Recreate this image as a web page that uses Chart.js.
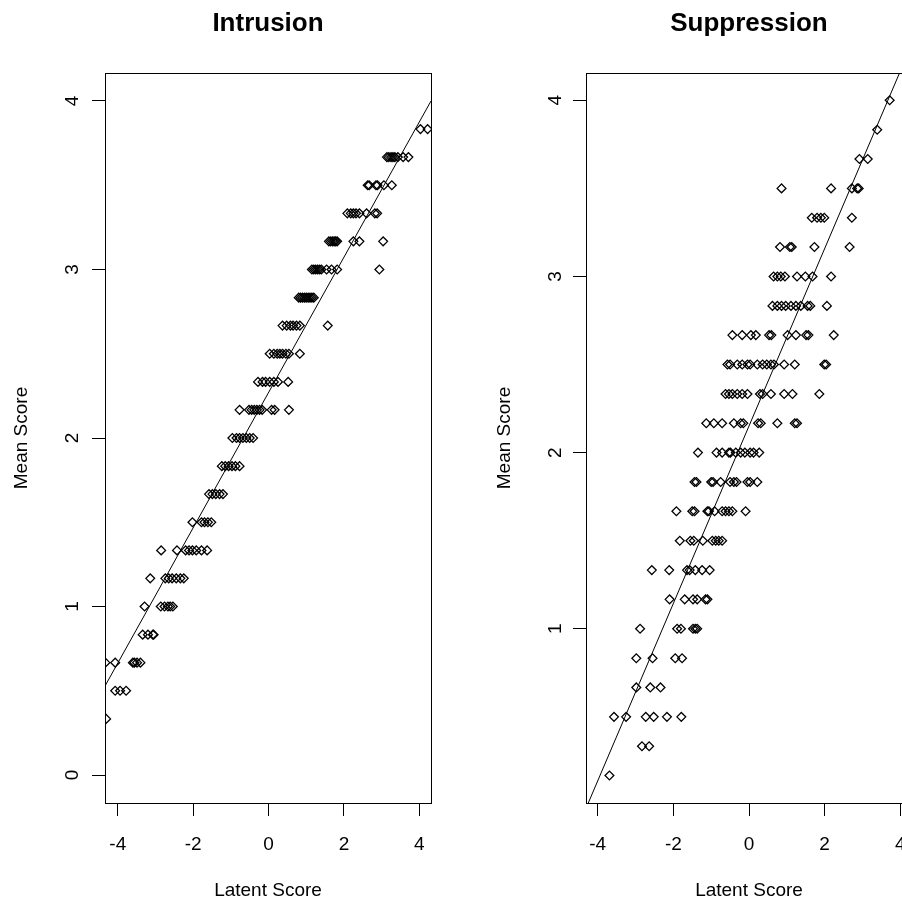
<!DOCTYPE html>
<html>
<head>
<meta charset="utf-8">
<script src="https://cdn.jsdelivr.net/npm/chart.js@4.4.1/dist/chart.umd.min.js"></script>
<style>
  html, body { margin: 0; padding: 0; background: #fff; overflow: hidden; width: 902px; height: 907px; }
  .panel { position: absolute; top: 0; height: 907px; }
  #left { left: 0; width: 460px; }
  #right { left: 460px; width: 481px; }
</style>
</head>
<body>
<div class="panel" id="left"><canvas id="intrusion"></canvas></div>
<div class="panel" id="right"><canvas id="suppression"></canvas></div>
<script>
// tick labels
const latentTicks = [-4, -2, 0, 2, 4];
const intrusionTicks = [0, 1, 2, 3, 4];
const suppressionTicks = [1, 2, 3, 4];

// Intrusion: mean score levels (bottom to top) and the latent scores plotted at each level
const intrusionMeans = [0.333, 0.5, 0.667, 0.833, 1, 1.167, 1.333, 1.5, 1.667, 1.833, 2,
  2.167, 2.333, 2.5, 2.667, 2.833, 3, 3.167, 3.333, 3.5, 3.667, 3.833];
const intrusionLatent = [
  [-4.31],
  [-4.07, -3.94, -3.78],
  [-4.33, -4.07, -3.60, -3.56, -3.49, -3.40],
  [-3.34, -3.20, -3.07, -3.05],
  [-3.29, -2.86, -2.76, -2.67, -2.61, -2.54],
  [-3.14, -2.74, -2.65, -2.56, -2.45, -2.34, -2.25],
  [-2.85, -2.43, -2.20, -2.11, -2.02, -1.92, -1.78, -1.63],
  [-2.02, -1.78, -1.70, -1.61, -1.52],
  [-1.58, -1.49, -1.40, -1.30, -1.21],
  [-1.24, -1.15, -1.06, -0.97, -0.88, -0.77],
  [-0.96, -0.85, -0.77, -0.68, -0.59, -0.50, -0.41],
  [-0.77, -0.52, -0.45, -0.38, -0.31, -0.24, -0.17, 0.08, 0.16, 0.54],
  [-0.28, -0.16, -0.08, 0.03, 0.14, 0.25, 0.52],
  [0.03, 0.14, 0.23, 0.30, 0.37, 0.46, 0.54, 0.83],
  [0.37, 0.48, 0.58, 0.65, 0.74, 0.83, 1.57],
  [0.80, 0.85, 0.90, 0.95, 1.00, 1.05, 1.10, 1.15, 1.20],
  [1.15, 1.20, 1.25, 1.30, 1.35, 1.40, 1.54, 1.67, 1.82, 2.94],
  [1.60, 1.65, 1.70, 1.74, 1.78, 1.82, 2.25, 2.41, 3.04],
  [2.09, 2.18, 2.25, 2.32, 2.41, 2.60, 2.82, 2.88],
  [2.63, 2.67, 2.85, 2.89, 3.06, 3.27],
  [3.14, 3.19, 3.25, 3.30, 3.35, 3.43, 3.57, 3.71],
  [4.03, 4.22]
];
const intrusionFit = [{ x: -4.35, y: 0.524 }, { x: 4.31, y: 4.0 }];

// Suppression
const suppressionMeans = [0.167, 0.333, 0.5, 0.667, 0.833, 1, 1.167, 1.333, 1.5, 1.667, 1.833, 2,
  2.167, 2.333, 2.5, 2.667, 2.833, 3, 3.167, 3.333, 3.5, 3.667, 3.833, 4];
const suppressionLatent = [
  [-3.69],
  [-2.83, -2.64],
  [-3.57, -3.25, -2.73, -2.52, -2.17, -1.79],
  [-2.98, -2.61, -2.34],
  [-2.98, -2.55, -1.95, -1.77],
  [-2.88, -1.90, -1.80, -1.48, -1.42, -1.37],
  [-2.10, -1.70, -1.48, -1.37, -1.15, -1.10],
  [-2.57, -2.11, -1.64, -1.57, -1.42, -1.24, -1.04],
  [-1.83, -1.55, -1.46, -1.22, -0.97, -0.88, -0.80, -0.71],
  [-1.92, -1.50, -1.44, -1.10, -1.06, -0.91, -0.71, -0.62, -0.53, -0.44, -0.09],
  [-1.44, -1.39, -1.00, -0.95, -0.75, -0.50, -0.40, -0.33, -0.04, 0.03, 0.22],
  [-1.35, -0.86, -0.71, -0.53, -0.49, -0.35, -0.22, -0.11, 0.03, 0.12, 0.27],
  [-1.13, -0.93, -0.71, -0.40, -0.22, -0.15, 0.24, 0.31, 0.75, 1.21, 1.27],
  [-0.62, -0.53, -0.44, -0.31, -0.18, -0.04, 0.29, 0.36, 0.58, 0.93, 1.15, 1.86],
  [-0.57, -0.50, -0.31, -0.18, -0.04, 0.03, 0.22, 0.36, 0.47, 0.58, 0.66, 0.93, 1.21, 1.99, 2.04],
  [-0.44, -0.18, 0.05, 0.18, 0.53, 0.59, 1.02, 1.24, 1.51, 1.57, 2.24],
  [0.62, 0.75, 0.86, 0.97, 1.11, 1.24, 1.37, 1.55, 1.62, 2.06],
  [0.65, 0.75, 0.84, 0.95, 1.27, 1.49, 1.68, 2.17],
  [0.82, 1.08, 1.13, 1.73, 2.66],
  [1.66, 1.80, 1.90, 1.99, 2.72],
  [0.86, 2.17, 2.72, 2.86, 2.90],
  [2.92, 3.14],
  [3.39],
  [3.72]
];
const suppressionFit = [{ x: -4.25, y: 0.011 }, { x: 3.98, y: 4.155 }];

const FONT = '"Liberation Sans", Arial, Helvetica, sans-serif';

// box round the plot region + y tick labels turned like R draws them
const rFrame = {
  id: 'rFrame',
  afterDraw(chart, args, opts) {
    const { ctx, chartArea: a } = chart;
    const y = chart.scales.y;
    ctx.save();
    ctx.strokeStyle = '#000';
    ctx.lineWidth = 1;
    ctx.strokeRect(Math.round(a.left) + 0.5, Math.round(a.top) + 0.5, Math.round(a.right - a.left), Math.round(a.bottom - a.top));
    ctx.fillStyle = '#000';
    ctx.font = '19px ' + FONT;
    ctx.textAlign = 'center';
    ctx.textBaseline = 'middle';
    y.ticks.forEach(t => {
      ctx.save();
      ctx.translate(a.left - opts.labelGap, y.getPixelForValue(t.value));
      ctx.rotate(-Math.PI / 2);
      ctx.fillText(String(t.value), 0, 0);
      ctx.restore();
    });
    ctx.restore();
  }
};

function drawPanel(id, p) {
  const points = p.means.flatMap((m, i) => p.latent[i].map(x => ({ x: x, y: m })));
  const tickGrid = { display: true, drawOnChartArea: false, drawTicks: true, tickLength: 13, color: '#000', tickColor: '#000', lineWidth: 1 };
  new Chart(document.getElementById(id), {
    type: 'scatter',
    data: {
      datasets: [
        { data: p.fit, showLine: true, borderColor: '#000', borderWidth: 1, pointRadius: 0, clip: 0 },
        { data: points, pointStyle: 'rectRot', pointRadius: 4.4, borderColor: '#000', backgroundColor: 'rgba(0,0,0,0)', borderWidth: 1.3, clip: 0 }
      ]
    },
    options: {
      responsive: true,
      maintainAspectRatio: false,
      animation: false,
      layout: { padding: { left: 0, right: 29, top: 0, bottom: 0 } },
      plugins: { legend: { display: false }, tooltip: { enabled: false }, rFrame: { labelGap: p.labelGap } },
      scales: {
        x: {
          type: 'linear', min: p.xMin, max: p.xMax,
          afterBuildTicks: s => { s.ticks = latentTicks.map(v => ({ value: v })); },
          afterFit: s => { s.height = 104; },
          grid: tickGrid,
          border: { display: false },
          ticks: { color: '#000', font: { family: FONT, size: 19 }, padding: 17, maxRotation: 0 },
          title: { display: true, text: 'Latent Score', color: '#000', font: { family: FONT, size: 19 }, padding: { top: 0, bottom: 5 } }
        },
        x2: {
          type: 'linear', position: 'top', min: p.xMin, max: p.xMax,
          afterFit: s => { s.height = 73; },
          grid: { display: false },
          border: { display: false },
          ticks: { display: false },
          title: { display: true, text: p.title, color: '#000', font: { family: FONT, size: 26, weight: 'bold' }, padding: { top: 8, bottom: 0 } }
        },
        y: {
          type: 'linear', min: p.yMin, max: p.yMax,
          afterBuildTicks: s => { s.ticks = p.yTicks.map(v => ({ value: v })); },
          afterFit: s => { s.width = p.yWidth; },
          grid: tickGrid,
          border: { display: false },
          ticks: { display: false },
          title: { display: true, text: 'Mean Score', color: '#000', font: { family: FONT, size: 19 }, padding: { top: p.yTitlePad, bottom: 0 } }
        }
      }
    },
    plugins: [rFrame]
  });
}

drawPanel('intrusion', {
  title: 'Intrusion', means: intrusionMeans, latent: intrusionLatent, fit: intrusionFit,
  yTicks: intrusionTicks, xMin: -4.34, xMax: 4.31, yMin: -0.166, yMax: 4.166,
  yWidth: 105, yTitlePad: 10.5, labelGap: 32
});
drawPanel('suppression', {
  title: 'Suppression', means: suppressionMeans, latent: suppressionLatent, fit: suppressionFit,
  yTicks: suppressionTicks, xMin: -4.31, xMax: 4.31, yMin: 0.011, yMax: 4.155,
  yWidth: 126, yTitlePad: 33, labelGap: 30
});
</script>
</body>
</html>
